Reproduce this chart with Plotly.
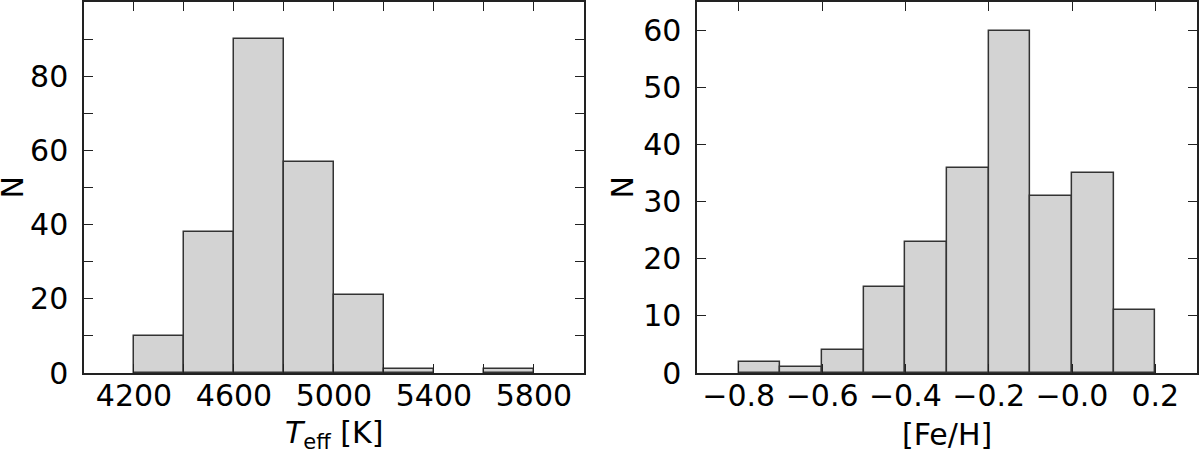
import plotly.graph_objects as go
from plotly.subplots import make_subplots

# Teff histogram (bin edges in K, counts)
teff_edges = [4200, 4400, 4600, 4800, 5000, 5200, 5400, 5600, 5800]
teff_counts = [10, 38, 90, 57, 21, 1, 0, 1]
teff_ticks = [4200, 4600, 5000, 5400, 5800]
teff_yticks = [0, 20, 40, 60, 80]

# [Fe/H] histogram
feh_edges = [-0.8, -0.7, -0.6, -0.5, -0.4, -0.3, -0.2, -0.1, 0.0, 0.1, 0.2]
feh_counts = [2, 1, 4, 15, 23, 36, 60, 31, 35, 11]
feh_ticks = [-0.8, -0.6, -0.4, -0.2, 0.0, 0.2]
feh_ticktext = ["\u22120.8", "\u22120.6", "\u22120.4", "\u22120.2", "\u22120.0", "0.2"]
feh_yticks = [0, 10, 20, 30, 40, 50, 60]

FONT = "DejaVu Sans"
SIZE = 30
fill = "#d3d3d3"
edge = "#333333"

fig = make_subplots(rows=1, cols=2, horizontal_spacing=0.1017)

def add_hist(edges, counts, col):
    lefts = [a for a, c in zip(edges[:-1], counts) if c > 0]
    widths = [b - a for a, b, c in zip(edges[:-1], edges[1:], counts) if c > 0]
    ys = [c for c in counts if c > 0]
    fig.add_trace(go.Bar(x=lefts, y=ys, width=widths, offset=0,
                         marker=dict(color=fill, line=dict(color=edge, width=1.5)),
                         showlegend=False), row=1, col=col)

add_hist(teff_edges, teff_counts, 1)
add_hist(feh_edges, feh_counts, 2)

axis_common = dict(showline=True, linecolor="#222", linewidth=1.5, mirror="ticks",
                   ticks="inside", ticklen=9, tickwidth=1.2, tickcolor="#222",
                   showgrid=False, zeroline=False, automargin=False,
                   tickfont=dict(family=FONT, size=SIZE, color="black"))

fig.update_xaxes(range=[4000, 6000], tickvals=teff_ticks, row=1, col=1,
                 ticklabelstandoff=-5,
                 minor=dict(dtick=200, tick0=4200, ticks="inside", ticklen=9, tickcolor="#222"),
                 **axis_common)
fig.update_xaxes(range=[-0.9, 0.3], tickvals=feh_ticks, ticktext=feh_ticktext, row=1, col=2,
                 ticklabelstandoff=-5, **axis_common)
fig.update_yaxes(range=[0, 100], tickvals=teff_yticks, row=1, col=1, ticklabelstandoff=8,
                 minor=dict(dtick=10, ticks="inside", ticklen=9, tickcolor="#222"),
                 **axis_common)
fig.update_yaxes(range=[0, 65], tickvals=feh_yticks, row=1, col=2, ticklabelstandoff=8,
                 **axis_common)

title_font = dict(family=FONT, size=SIZE, color="black")
fig.add_annotation(text="<i>T</i><sub>eff</sub> [K]", xref="x domain", yref="paper",
                   x=0.5, y=-0.165, yanchor="middle", showarrow=False, font=title_font)
fig.add_annotation(text="[Fe/H]", xref="x2 domain", yref="paper",
                   x=0.5, y=-0.165, yanchor="middle", showarrow=False, font=title_font)
fig.add_annotation(text="N", xref="paper", yref="paper", x=-0.0638, y=0.5,
                   xanchor="center", textangle=-90, showarrow=False, font=title_font)
fig.add_annotation(text="N", xref="paper", yref="paper", x=0.4834, y=0.5,
                   xanchor="center", textangle=-90, showarrow=False, font=title_font)

fig.update_layout(width=1200, height=454, margin=dict(l=84, r=3, t=2, b=81),
                  paper_bgcolor="white", plot_bgcolor="white", bargap=0,
                  font=dict(family=FONT, color="black"))

# page body has an 8px default margin, drop it so the figure sits at the corner
fig.write_html("out.html", config={"displayModeBar": False},
               post_script="document.body.style.margin='0';")
